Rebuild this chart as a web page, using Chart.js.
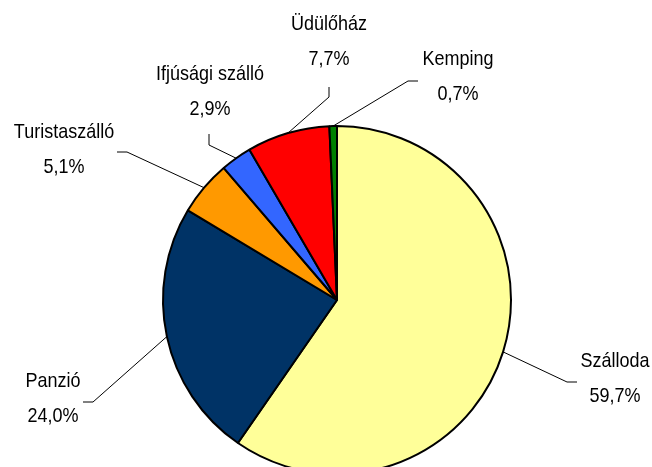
<!DOCTYPE html>
<html>
<head>
<meta charset="utf-8">
<script src="https://cdn.jsdelivr.net/npm/chart.js@4"></script>
<style>
  html, body { margin: 0; padding: 0; background: #fff; }
  #wrap { width: 652px; height: 467px; overflow: hidden; position: relative; }
  canvas { display: block; }
</style>
</head>
<body>
<div id="wrap"><canvas id="pie" width="652" height="490"></canvas></div>
<script>
const labels = ["Szálloda", "Panzió", "Turistaszálló", "Ifjúsági szálló", "Üdülőház", "Kemping"];
const shares = [59.7, 24.0, 5.1, 2.9, 7.7, 0.7];
const shareText = ["59,7%", "24,0%", "5,1%", "2,9%", "7,7%", "0,7%"];
const colors = ["#FFFF99", "#003366", "#FF9900", "#3366FF", "#FF0000", "#008000"];

// where each label sits (text centre, first line) and its leader elbow/tail
const labelLayout = [
  { tx: 615, ty: 362, elbow: [567, 382], tail: [577, 382] },
  { tx: 53,  ty: 382, elbow: [93, 402],  tail: [83, 402] },
  { tx: 64,  ty: 133, elbow: [127, 152], tail: [117, 152] },
  { tx: 210, ty: 75,  elbow: [209, 145], tail: [209, 134] },
  { tx: 329, ty: 25,  elbow: [329, 97],  tail: [329, 87] },
  { tx: 458, ty: 60,  elbow: [408, 81],  tail: [418, 81] }
];

function drawText(ctx, text, x, y) {
  ctx.save();
  ctx.translate(x, y);
  ctx.scale(1, 1.1);
  ctx.fillText(text, 0, 0);
  ctx.restore();
}

const pieLabels = {
  id: "pieLabels",
  afterDraw(c) {
    const ctx = c.ctx;
    const arcs = c.getDatasetMeta(0).data;
    ctx.save();
    arcs.forEach((arc, i) => {
      const lay = labelLayout[i];
      const mid = (arc.startAngle + arc.endAngle) / 2;
      const sx = arc.x + Math.cos(mid) * arc.outerRadius;
      const sy = arc.y + Math.sin(mid) * arc.outerRadius;

      ctx.strokeStyle = "#000";
      ctx.lineWidth = 1;
      ctx.beginPath();
      ctx.moveTo(sx, sy);
      ctx.lineTo(lay.elbow[0], lay.elbow[1]);
      ctx.lineTo(lay.tail[0], lay.tail[1]);
      ctx.stroke();

      ctx.fillStyle = "#000";
      ctx.font = "18px 'Liberation Sans', Arial, sans-serif";
      ctx.textAlign = "center";
      ctx.textBaseline = "middle";
      drawText(ctx, labels[i], lay.tx, lay.ty);
      drawText(ctx, shareText[i], lay.tx, lay.ty + 35);
    });
    ctx.restore();
  }
};

new Chart(document.getElementById("pie"), {
  type: "pie",
  data: {
    labels: labels,
    datasets: [{
      data: shares,
      backgroundColor: colors,
      borderColor: "#000",
      borderWidth: 2
    }]
  },
  options: {
    responsive: false,
    animation: false,
    devicePixelRatio: 1,
    layout: { padding: { left: 162, right: 140, top: 125, bottom: 15 } },
    plugins: {
      legend: { display: false },
      tooltip: { enabled: false }
    }
  },
  plugins: [pieLabels]
});
</script>
</body>
</html>
